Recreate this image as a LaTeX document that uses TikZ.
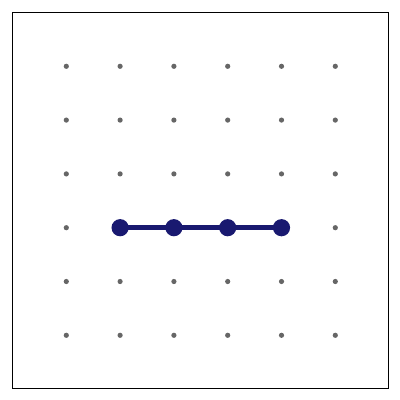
\documentclass[tikz,border=0pt]{standalone}
\definecolor{navy}{HTML}{191970}
\definecolor{dotgray}{HTML}{666666}
\tikzset{
  griddot/.style={circle,fill=dotgray,inner sep=0pt,minimum size=0.13cm},
  bigdot/.style={circle,fill=navy,inner sep=0pt,minimum size=0.43cm},
  seg/.style={draw=navy,line width=0.13cm}
}
\begin{document}
\begin{tikzpicture}[x=0.025cm,y=-0.025cm]
\useasboundingbox (0,0) rectangle (400,400);
\draw[line width=0.6pt] (12,12) rectangle (388,388);
\foreach \i in {0,...,5}{
  \foreach \j in {0,...,5}{
    \node[griddot] (g\i\j) at ({66.3+53.8*\i},{66.3+53.8*\j}) {};
  }
}
\draw[seg] (g13.center) -- (g23.center) -- (g33.center) -- (g43.center);
\node[bigdot] (p1) at (g13) {};
\node[bigdot] (p2) at (g23) {};
\node[bigdot] (p3) at (g33) {};
\node[bigdot] (p4) at (g43) {};
\end{tikzpicture}
\end{document}
